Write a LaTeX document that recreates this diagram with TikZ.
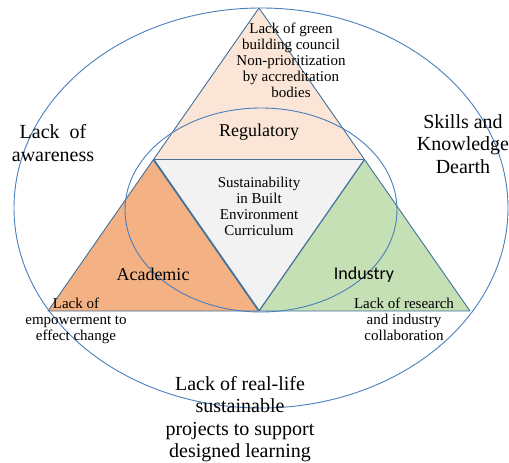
\documentclass[tikz,border=0pt]{standalone}
\usepackage{fontspec}
\setmainfont{Liberation Serif}
\newfontfamily\timesfont{Liberation Serif}
\newfontfamily\calfont{Carlito}
\definecolor{edgeblue}{HTML}{41719C}
\definecolor{ringblue}{HTML}{4A7EBB}
\definecolor{regfill}{HTML}{FBE5D6}
\definecolor{acafill}{HTML}{F4B183}
\definecolor{indfill}{HTML}{C5E0B4}
\definecolor{corefill}{HTML}{F2F2F2}
\tikzset{
  tri/.style={draw=edgeblue, line width=0.9pt, line join=round},
  ring/.style={draw=ringblue, line width=0.9pt},
  small/.style={align=center, inner sep=0pt, font=\timesfont\fontsize{15}{16}\selectfont},
  mid/.style={align=center, inner sep=0pt, font=\timesfont\fontsize{18}{21}\selectfont},
  big/.style={align=center, inner sep=0pt, font=\timesfont\fontsize{20}{22.5}\selectfont},
}
\begin{document}
\begin{tikzpicture}[x=1pt, y=-1pt]
\useasboundingbox (0,0) rectangle (509,463);
% corners of the large triangle and its midpoints
\coordinate (apex) at (259,8);
\coordinate (bl) at (48,311);
\coordinate (br) at (470,311);
\coordinate (ml) at (153.5,159.5);
\coordinate (mr) at (364.5,159.5);
\coordinate (mb) at (259,311);
% four sub-triangles
\fill[regfill] (apex) -- (ml) -- (mr) -- cycle;
\fill[acafill] (ml) -- (bl) -- (mb) -- cycle;
\fill[indfill] (mr) -- (mb) -- (br) -- cycle;
\fill[corefill] (ml) -- (mr) -- (mb) -- cycle;
\draw[tri] (apex) -- (bl) -- (br) -- cycle;
\draw[tri] (ml) -- (mr);
\draw[tri, line width=1.2pt] (mb) -- (mr);
\draw[tri, line width=1.8pt] (ml) -- (mb);
% enclosing ellipses
\draw[ring] (261,208) ellipse [x radius=247pt, y radius=200pt];
\draw[ring] (261,210) ellipse [x radius=136pt, y radius=102pt];
% labels
\node[small] (reg-issues) at (291,60) {Lack of green\\building council\\Non-prioritization\\by accreditation\\bodies};
\node[mid] (reg) at (259,132) {Regulatory};
\node[small] (core) at (259,206.5) {Sustainability\\in Built\\Environment\\Curriculum};
\node[mid] (aca) at (153,274) {Academic};
\node[mid, font=\calfont\fontsize{18}{21}\selectfont] (ind) at (364,275) {Industry};
\node[small] (aca-issues) at (76,321) {Lack of\\empowerment to\\effect change};
\node[small] (ind-issues) at (404,319.5) {Lack of research\\and industry\\collaboration};
\node[big] (aware) at (53,143) {Lack\ \ of\\awareness};
\node[big] (skills) at (463,144) {Skills and\\Knowledge\\Dearth};
\node[big] (projects) at (240,419) {Lack of real-life\\sustainable\\projects to support\\designed learning};
\end{tikzpicture}
\end{document}
